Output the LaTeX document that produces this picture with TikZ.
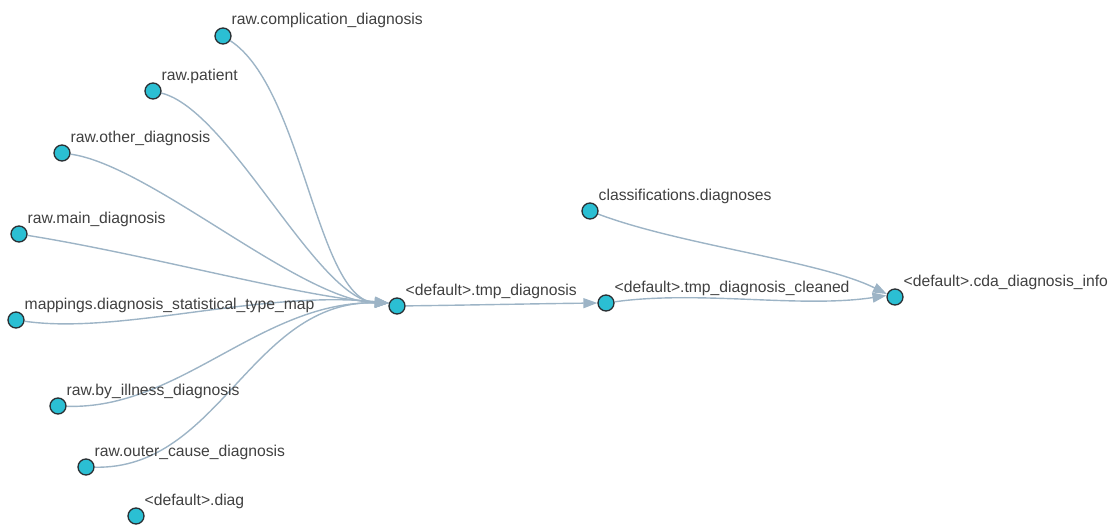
\documentclass[tikz,border=0pt]{standalone}
\usepackage{fontspec}
\setmainfont{Liberation Sans}
\usetikzlibrary{arrows.meta,backgrounds}
\definecolor{nodefill}{HTML}{2BBFD3}
\definecolor{nodeline}{HTML}{2A2F33}
\definecolor{edgecol}{HTML}{9DB4C6}
\definecolor{txtcol}{HTML}{404040}
\tikzset{
  tbl/.style={circle, fill=nodefill, draw=nodeline, line width=1.3pt, minimum size=16pt, inner sep=0pt},
  lbl/.style={anchor=base west, inner sep=0pt, text=txtcol, font=\fontsize{15.7pt}{18pt}\selectfont, xshift=8.5pt, yshift=11pt},
  edge/.style={draw=edgecol, line width=1.4pt, -{Triangle[length=14pt,width=10pt]}},
}
\begin{document}
\begin{tikzpicture}[x=1pt, y=-1pt]
\useasboundingbox (0,0) rectangle (1113,527);
% nodes
\node[tbl] (comp) at (223,36) {};
\node[tbl] (pat) at (153,91) {};
\node[tbl] (oth) at (62,153) {};
\node[tbl] (mainD) at (19,234) {};
\node[tbl] (map) at (16,320) {};
\node[tbl] (ill) at (58,406) {};
\node[tbl] (outer) at (86,467) {};
\node[tbl] (diag) at (136,516) {};
\node[tbl] (tmp) at (397,306) {};
\node[tbl] (cln) at (606,303) {};
\node[tbl] (cls) at (590,211) {};
\node[tbl] (cda) at (895,297) {};
% labels
\node[lbl] (lcomp) at (comp) {raw.complication\_diagnosis};
\node[lbl] (lpat) at (pat) {raw.patient};
\node[lbl] (loth) at (oth) {raw.other\_diagnosis};
\node[lbl] (lmain) at (mainD) {raw.main\_diagnosis};
\node[lbl] (lmap) at (map) {mappings.diagnosis\_statistical\_type\_map};
\node[lbl] (lill) at (ill) {raw.by\_illness\_diagnosis};
\node[lbl] (louter) at (outer) {raw.outer\_cause\_diagnosis};
\node[lbl] (ldiag) at (diag) {<default>.diag};
\node[lbl] (ltmp) at (tmp) {<default>.tmp\_diagnosis};
\node[lbl] (lcln) at (cln) {<default>.tmp\_diagnosis\_cleaned};
\node[lbl] (lcls) at (cls) {classifications.diagnoses};
\node[lbl] (lcda) at (cda) {<default>.cda\_diagnosis\_info};
% edges
\begin{scope}[on background layer]
\draw[edge] (comp) .. controls +(80,52) and +(-72,-2) .. (tmp.160);
\draw[edge] (pat) .. controls +(77,19) and +(-72,-3) .. (tmp.160);
\draw[edge] (oth) .. controls +(88,12) and +(-88,-2) .. (tmp.160);
\draw[edge] (mainD) .. controls +(131,21) and +(-88,-6) .. (tmp.160);
\draw[edge] (map) .. controls +(104,15) and +(-128,-13) .. (tmp.160);
\draw[edge] (ill) .. controls +(122,4) and +(-128,-2) .. (tmp.160);
\draw[edge] (outer) .. controls +(134,3) and +(-138,-3) .. (tmp.160);
\draw[edge] (tmp) .. controls +(80,-1) and +(-80,1) .. (cln.west);
\draw[edge] (cln) .. controls +(94,-13) and +(-86,13) .. (cda.170);
\draw[edge] (cls) .. controls +(90,34) and +(-66,-33) .. (cda.160);
\end{scope}
\end{tikzpicture}
\end{document}
